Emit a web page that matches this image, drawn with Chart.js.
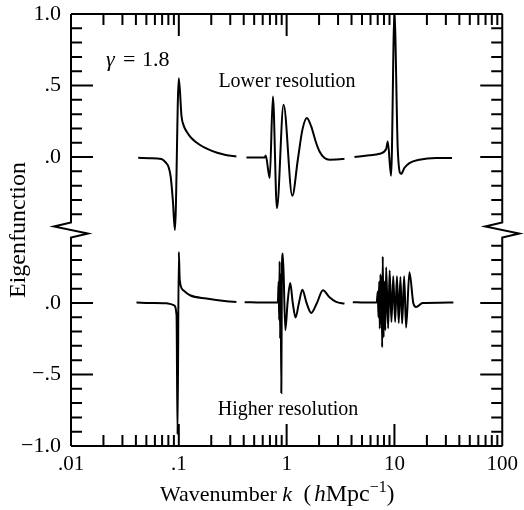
<!DOCTYPE html>
<html>
<head>
<meta charset="utf-8">
<script src="https://cdn.jsdelivr.net/npm/chart.js@4.4.1/dist/chart.umd.min.js"></script>
<style>
  html, body { margin: 0; padding: 0; background: #fff; }
</style>
</head>
<body>
<canvas id="chart" width="524" height="510"></canvas>
<script>
// values; null splits a curve into its pieces
// upper panel: lower resolution
const upperK = [
  0.042, 0.054, 0.069, 0.076, 0.080, 0.084, 0.088, 0.092, 0.100, 0.106, 0.111, 0.118, 0.132, 0.156, 0.186, 0.223, 0.272, 0.342, null,
  0.424, 0.516, 0.625, 0.640, 0.697, 0.746, 0.813, 0.937, 1.129, 1.27, 1.40, 1.54, 1.69, 1.86, 2.02, 2.25, 2.50, 3.32, 3.44, null,
  4.26, 5.87, 7.26, 8.38, 8.67, 9.31, 10.0, 10.74, 11.54, 12.39, 13.77, 17.0, 24.3, 34.2
];
const upperV = [
  -0.005, -0.008, -0.014, -0.04, -0.066, -0.136, -0.30, -0.51, 0.55, 0.284, 0.22, 0.179, 0.13, 0.086, 0.055, 0.032, 0.015, 0.004, null,
  -0.003, -0.004, -0.004, 0.01, -0.147, 0.424, -0.357, 0.366, -0.271, -0.019, 0.19, 0.273, 0.214, 0.109, 0.039, -0.007, -0.019, -0.014, -0.012, null,
  0.0, 0.012, 0.023, 0.056, 0.109, -0.131, 1.0, 0.051, -0.117, -0.075, -0.042, -0.019, -0.007, -0.007
];

// lower panel: higher resolution
const lowerK = [
  0.0405, 0.054, 0.077, 0.086, 0.090, 0.0953, 0.0973, 0.100, 0.102, 0.110, 0.127, 0.180, 0.277, 0.342, null,
  0.408, 0.588, 0.830, 0.843, 0.853, 0.861, 0.871, 0.879, 0.893, 0.904, 0.923, 0.973, 1.02, 1.08, 1.14, 1.21, 1.30, 1.40, 1.53, 1.69, 1.91, 2.17, 2.50, 2.88, 3.44, null,
  4.11, 5.27, 6.85, 7.01, 7.11, 7.22, 7.31, 7.42, 7.53, 7.61, 7.69, 7.79, 7.94, 8.08, 8.22, 8.38, 8.74, 9.03, 9.38, 9.75, 10.15, 10.55, 10.96, 11.36, 11.79, 12.30, 12.83, 13.77, 15.0, 15.88, 18.28, 26.1, 35.2
];
const lowerV = [
  0.003, 0.0, -0.002, -0.01, -0.016, -0.086, -0.92, 0.357, 0.159, 0.089, 0.054, 0.031, 0.012, 0.007, null,
  0.005, 0.003, 0.005, 0.15, -0.12, 0.29, -0.25, 0.2, -0.63, 0.25, 0.345, -0.19, 0.0, 0.14, 0.0, -0.102, 0.0, 0.093, 0.0, -0.07, 0.0, 0.089, 0.04, 0.007, -0.004, null,
  0.005, 0.003, 0.003, 0.08, -0.1, 0.15, -0.18, 0.2, -0.15, 0.18, -0.31, 0.325, -0.24, 0.15, -0.19, 0.25, -0.178, 0.227, -0.133, 0.187, -0.133, 0.187, -0.14, 0.182, -0.144, 0.187, -0.172, 0.215, -0.004, -0.028, 0.0, 0.002, 0.003
];

// the lower panel sits below the upper one on a shared axis
const LOWER_SHIFT = 1.02;
const BREAK_AT = -0.51;

const xTicks = [0.01, 0.1, 1, 10, 100];
const xTickLabels = ['.01', '.1', '1', '10', '100'];
const yTicks = [1.0, 0.5, 0.0, -LOWER_SHIFT, -0.5 - LOWER_SHIFT, -1.0 - LOWER_SHIFT];
const yTickLabels = ['1.0', '.5', '.0', '.0', '\u2212.5', '\u22121.0'];

const SERIF = '"Liberation Serif", "Times New Roman", serif';

function toPoints(ks, vs, shift) {
  return ks.map((k, i) => ({ x: k, y: vs[i] === null ? null : vs[i] - shift }));
}

// frame, inward ticks, axis breaks and the labels inside the plot
const framePlugin = {
  id: 'frame',
  afterDraw(chart) {
    const ctx = chart.ctx;
    const a = chart.chartArea;
    const xs = chart.scales.x, ys = chart.scales.y;
    ctx.save();
    ctx.strokeStyle = '#000';
    ctx.lineWidth = 2;

    const yb = ys.getPixelForValue(BREAK_AT);
    ctx.beginPath();
    ctx.moveTo(a.left, a.top);
    ctx.lineTo(a.right, a.top);
    ctx.moveTo(a.left, a.bottom);
    ctx.lineTo(a.right, a.bottom);
    [a.left, a.right].forEach(sx => {
      ctx.moveTo(sx, a.top);
      ctx.lineTo(sx, yb - 7.5);
      ctx.lineTo(sx - 17, yb - 3.5);
      ctx.lineTo(sx + 17, yb + 3.5);
      ctx.lineTo(sx, yb + 7.5);
      ctx.lineTo(sx, a.bottom);
    });
    ctx.stroke();

    ctx.beginPath();
    for (let d = -2; d < 2; d++) {
      for (let m = 1; m <= 9; m++) {
        const px = xs.getPixelForValue(m * Math.pow(10, d));
        const len = m === 1 ? 22 : 11;
        ctx.moveTo(px, a.bottom);
        ctx.lineTo(px, a.bottom - len);
        ctx.moveTo(px, a.top);
        ctx.lineTo(px, a.top + len);
      }
    }
    const yMinor = [];
    for (let i = -4; i <= 10; i++) yMinor.push(i / 10);
    for (let i = -10; i <= 4; i++) yMinor.push(i / 10 - LOWER_SHIFT);
    yMinor.forEach(v => {
      const py = ys.getPixelForValue(v);
      ctx.moveTo(a.left, py);
      ctx.lineTo(a.left + 11, py);
      ctx.moveTo(a.right, py);
      ctx.lineTo(a.right - 11, py);
    });
    yTicks.forEach(v => {
      const py = ys.getPixelForValue(v);
      ctx.moveTo(a.left, py);
      ctx.lineTo(a.left + 22, py);
      ctx.moveTo(a.right, py);
      ctx.lineTo(a.right - 22, py);
    });
    ctx.stroke();

    ctx.fillStyle = '#000';
    ctx.textBaseline = 'alphabetic';
    // gamma label
    ctx.textAlign = 'left';
    ctx.font = 'italic 22px ' + SERIF;
    ctx.fillText('\u03b3', 106, 66);
    ctx.font = '22px ' + SERIF;
    ctx.fillText('=', 123, 66);
    ctx.fillText('1.8', 142, 66);

    ctx.textAlign = 'center';
    ctx.font = '20px ' + SERIF;
    ctx.fillText('Lower resolution', 287, 87);
    ctx.fillText('Higher resolution', 288, 415);

    // x axis title with italic k and h
    const parts = [
      ['Wavenumber ', '22px ', 0],
      ['k', 'italic 22px ', 0],
      ['  (', '23px ', 0],
      ['h', 'italic 23px ', 0],
      ['Mpc', '24px ', 0],
      ['\u22121', '16px ', -9],
      [')', '23px ', 0]
    ];
    let tx = 160;
    ctx.textAlign = 'left';
    parts.forEach(p => {
      ctx.font = p[1] + SERIF;
      ctx.fillText(p[0], tx, 501 + p[2]);
      tx += ctx.measureText(p[0]).width + (p[0] === '  (' ? 3 : 0);
    });
    ctx.restore();
  }
};

const ctx = document.getElementById('chart').getContext('2d');
new Chart(ctx, {
  type: 'line',
  data: {
    datasets: [
      {
        label: 'Lower resolution',
        data: toPoints(upperK, upperV, 0),
        borderColor: '#000',
        borderWidth: 2,
        pointRadius: 0,
        spanGaps: false,
        cubicInterpolationMode: 'monotone'
      },
      {
        label: 'Higher resolution',
        data: toPoints(lowerK, lowerV, LOWER_SHIFT),
        borderColor: '#000',
        borderWidth: 2,
        pointRadius: 0,
        spanGaps: false,
        cubicInterpolationMode: 'monotone'
      }
    ]
  },
  options: {
    responsive: false,
    animation: false,
    layout: { padding: { top: 14, right: 20, bottom: 0, left: 0 } },
    plugins: {
      legend: { display: false },
      tooltip: { enabled: false }
    },
    scales: {
      x: {
        type: 'logarithmic',
        min: 0.01,
        max: 100,
        grid: { display: false, drawTicks: false },
        border: { display: false },
        afterBuildTicks: s => { s.ticks = xTicks.map(v => ({ value: v })); },
        afterFit: s => { s.height = 64; },
        ticks: {
          autoSkip: false,
          maxRotation: 0,
          padding: 6,
          color: '#000',
          font: { family: SERIF, size: 21 },
          callback: (v, i) => xTickLabels[i]
        }
      },
      y: {
        type: 'linear',
        min: -1.0 - LOWER_SHIFT,
        max: 1.0,
        grid: { display: false, drawTicks: false },
        border: { display: false },
        afterBuildTicks: s => { s.ticks = yTicks.map(v => ({ value: v })); },
        afterFit: s => { s.width = 71; s.paddingTop = 0; s.paddingBottom = 0; },
        ticks: {
          autoSkip: false,
          padding: 10,
          color: '#000',
          font: { family: SERIF, size: 22 },
          callback: (v, i) => yTickLabels[i]
        },
        title: {
          display: true,
          text: 'Eigenfunction',
          color: '#000',
          font: { family: SERIF, size: 24 },
          padding: { top: 4, bottom: 0 }
        }
      }
    }
  },
  plugins: [framePlugin]
});
</script>
</body>
</html>
